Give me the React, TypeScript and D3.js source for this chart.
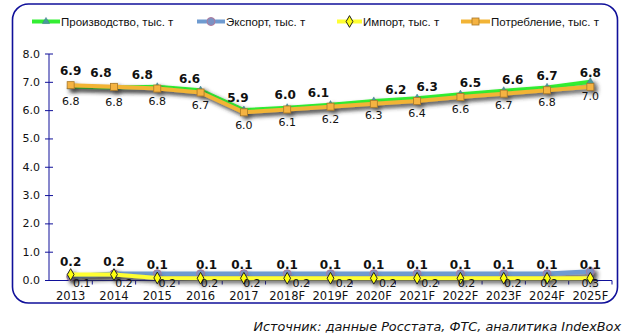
import React from "react";
import * as d3 from "d3";

const categories = ["2013", "2014", "2015", "2016", "2017", "2018F", "2019F", "2020F", "2021F", "2022F", "2023F", "2024F", "2025F"];
const production = [6.84, 6.82, 6.84, 6.72, 6.02, 6.1, 6.21, 6.34, 6.44, 6.58, 6.7, 6.82, 7.02];
const exportV = [0.14, 0.24, 0.24, 0.24, 0.24, 0.24, 0.24, 0.24, 0.24, 0.24, 0.24, 0.24, 0.32];
const importV = [0.21, 0.21, 0.09, 0.08, 0.08, 0.08, 0.08, 0.08, 0.08, 0.08, 0.08, 0.08, 0.08];
const consumption = [6.9, 6.84, 6.78, 6.64, 5.94, 6.04, 6.14, 6.24, 6.34, 6.48, 6.6, 6.72, 6.84];
const yTicks = [0, 1, 2, 3, 4, 5, 6, 7, 8];
const seriesNames = ["Производство, тыс. т", "Экспорт, тыс. т", "Импорт, тыс. т", "Потребление, тыс. т"];
const sourceText = "Источник: данные Росстата, ФТС, аналитика IndexBox";

// label nudges (style)
const consLabelDx = [0, -13, -15, -11, -6, -2, -12, 22, 10, 10, 9, 0, 0];
const expLabelDx = [11, 10, 10, 9, 8, 14, 14, 14, 13, 6, 9, 2, 0];
const impLabelDx = [0, 0, 0, 6, -2, 0, 0, 0, 0, 0, 0, 0, 0];

const NAVY = "#10109a";
const GREEN = "#33ee33";
const BLUE = "#6f9bd0";
const YELLOW = "#ffff33";
const ORANGE = "#f2b436";

function Marker({ kind, x, y }: { kind: string; x: number; y: number }) {
  if (kind === "tri") {
    const p = d3.symbol().type(d3.symbolTriangle).size(22)();
    return <path d={p || ""} transform={`translate(${x},${y})`} fill="#4a9a9c" stroke="#3a7a8a" strokeWidth={0.5} />;
  }
  if (kind === "sq") {
    return <rect x={x - 3.5} y={y - 3.5} width={7} height={7} fill="#f5b342" stroke="#a87828" strokeWidth={0.8} />;
  }
  if (kind === "circ") {
    return <circle cx={x} cy={y} r={4} fill="#7b92c4" stroke="#b07a9c" strokeWidth={1} />;
  }
  const p = d3.symbol().type(d3.symbolDiamond).size(40)();
  return <path d={p || ""} transform={`translate(${x},${y})`} fill="#ffff10" stroke="#222" strokeWidth={1} />;
}

export default function App() {
  const W = 631;
  const H = 334;
  const x = d3.scaleBand<string>().domain(categories).range([49, 612]);
  const cx = (c: string) => (x(c) as number) + x.bandwidth() / 2;
  const y = d3.scaleLinear().domain([0, 8]).range([280.5, 54]);
  const line = d3.line<number>().x((_, i) => cx(categories[i])).y((d) => y(d));

  const series = [
    { vals: production, color: GREEN, width: 4, marker: "tri" },
    { vals: exportV, color: BLUE, width: 4.5, marker: "circ" },
    { vals: importV, color: YELLOW, width: 4, marker: "dia" },
    { vals: consumption, color: ORANGE, width: 4, marker: "sq" },
  ];

  const legendItems = [
    { x0: 32, x1: 60, color: GREEN, marker: "tri" },
    { x0: 197, x1: 225, color: BLUE, marker: "circ" },
    { x0: 337, x1: 362, color: YELLOW, marker: "dia" },
    { x0: 461, x1: 490, color: ORANGE, marker: "sq" },
  ];

  const fmt = (v: number) => v.toFixed(1);
  const font = "DejaVu Sans, Verdana, sans-serif";

  return (
    <svg width={W} height={H} style={{ position: "absolute", left: 0, top: 0 }} fontFamily={font}>
      <defs>
        <filter id="sh" x="-10%" y="-50%" width="130%" height="300%">
          <feDropShadow dx="3" dy="3" stdDeviation="2.2" floodColor="#333" floodOpacity="0.8" />
        </filter>
      </defs>
      <rect x={0} y={0} width={W} height={H} fill="#fff" />
      <rect x={12.5} y={4} width={605} height={299} rx={16} ry={16} fill="#fff" stroke={NAVY} strokeWidth={1.6} />

      {/* legend */}
      {legendItems.map((l, i) => (
        <g key={i}>
          <line x1={l.x0} x2={l.x1} y1={21.5} y2={21.5} stroke={l.color} strokeWidth={4} />
          <Marker kind={l.marker} x={(l.x0 + l.x1) / 2} y={21.5} />
          <text x={l.x1 + 1} y={21.5} dominantBaseline="central" fontFamily="Liberation Sans, Arial, sans-serif" fontSize={11.5} fill="#111">
            {seriesNames[i]}
          </text>
        </g>
      ))}

      {/* y axis */}
      <line x1={49} x2={49} y1={y(8)} y2={y(0)} stroke={NAVY} strokeWidth={1} />
      {yTicks.map((t) => (
        <g key={t}>
          <line x1={45} x2={53} y1={y(t)} y2={y(t)} stroke={NAVY} strokeWidth={1} />
          <text x={40} y={y(t)} textAnchor="end" dominantBaseline="central" fontSize={11} fill="#111">
            {t.toFixed(1)}
          </text>
        </g>
      ))}

      {/* x axis */}
      <line x1={49} x2={612} y1={y(0)} y2={y(0)} stroke={NAVY} strokeWidth={1} />
      {categories.map((c, i) => (
        <line key={"t" + i} x1={(x(c) as number) + x.bandwidth()} x2={(x(c) as number) + x.bandwidth()} y1={y(0)} y2={y(0) + 4} stroke={NAVY} strokeWidth={1} />
      ))}
      {categories.map((c) => (
        <text key={c} x={cx(c)} y={296} textAnchor="middle" dominantBaseline="central" fontSize={11.5} fill="#111">
          {c}
        </text>
      ))}

      {/* series lines */}
      {series.map((s, si) => (
        <g key={si} filter="url(#sh)">
          <path d={line(s.vals) || ""} fill="none" stroke={s.color} strokeWidth={s.width} strokeLinejoin="round" />
          {s.vals.map((v, i) => (
            <Marker key={i} kind={s.marker} x={cx(categories[i])} y={y(v)} />
          ))}
        </g>
      ))}

      {/* data labels */}
      {production.map((v, i) => (
        <text key={"p" + i} x={cx(categories[i])} y={y(v) + 15} textAnchor="middle" dominantBaseline="central" fontSize={11} fill="#111">
          {fmt(v)}
        </text>
      ))}
      {consumption.map((v, i) => (
        <text key={"c" + i} x={cx(categories[i]) + consLabelDx[i]} y={y(v) - 14} textAnchor="middle" dominantBaseline="central" fontSize={12} fontWeight="bold" fill="#111">
          {fmt(v)}
        </text>
      ))}
      {exportV.map((v, i) => (
        <text key={"e" + i} x={cx(categories[i]) + expLabelDx[i]} y={283.5} textAnchor="middle" dominantBaseline="central" fontSize={11} fill="#111">
          {fmt(v)}
        </text>
      ))}
      {importV.map((v, i) => (
        <text key={"m" + i} x={cx(categories[i]) + impLabelDx[i]} y={y(v) - 13} textAnchor="middle" dominantBaseline="central" fontSize={12} fontWeight="bold" fill="#111">
          {fmt(v)}
        </text>
      ))}

      <text x={621} y={326} textAnchor="end" dominantBaseline="central" fontSize={12.8} fontStyle="italic" fill="#111">
        {sourceText}
      </text>
    </svg>
  );
}
